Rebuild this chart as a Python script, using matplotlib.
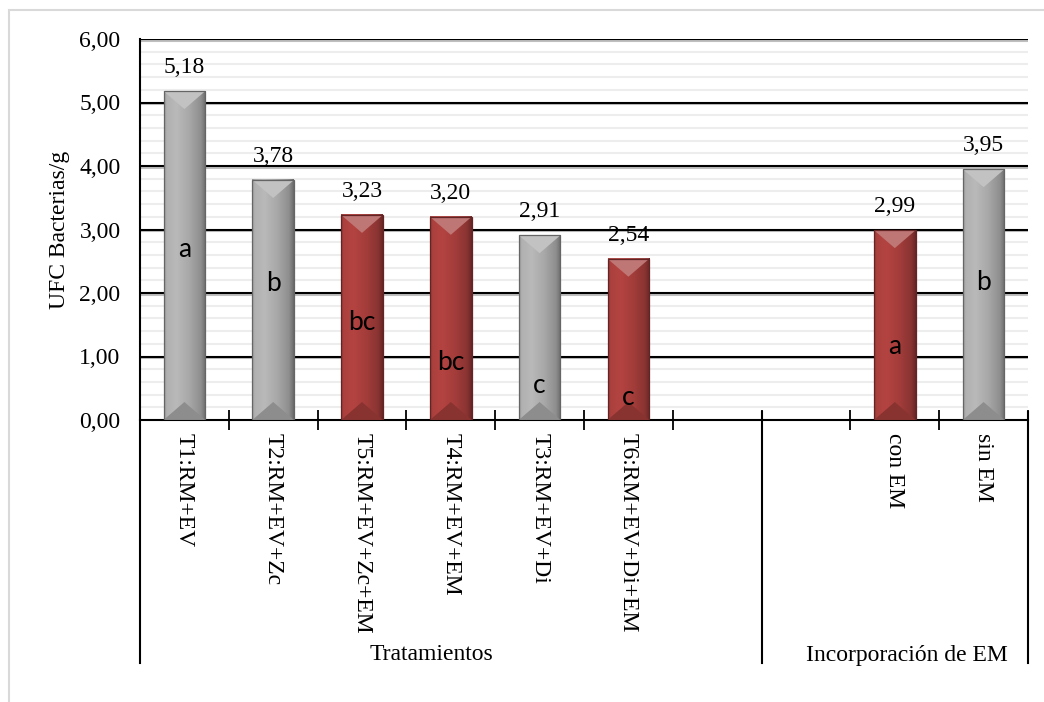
import numpy as np
import matplotlib
matplotlib.use("Agg")
import matplotlib.pyplot as plt
import matplotlib.patheffects as pe
import matplotlib.transforms as mtransforms
from matplotlib.patches import Polygon, Rectangle
from matplotlib.ticker import FuncFormatter, MultipleLocator

# bacterial counts per treatment, then by EM incorporation (empty slots pad the groups)
categories = ["T1:RM+EV", "T2:RM+EV+Zc", "T5:RM+EV+Zc+EM", "T4:RM+EV+EM",
              "T3:RM+EV+Di", "T6:RM+EV+Di+EM", "", "", "con EM", "sin EM"]
values = [5.18, 3.78, 3.23, 3.20, 2.91, 2.54, np.nan, np.nan, 2.99, 3.95]
letters = ["a", "b", "bc", "bc", "c", "c", "", "", "a", "b"]
letter_y = [2.69, 2.15, 1.54, 0.91, 0.55, 0.35, 0, 0, 1.15, 2.17]
with_em = [False, False, True, True, False, True, False, False, True, False]
groups = ["Tratamientos", "Incorporación de EM"]
group_x = [2.78, 8.14]
group_edges = [-0.5, 6.5, 9.5]

plt.rcParams["font.family"] = ["Liberation Serif", "DejaVu Serif"]

W, H = 1044, 702
fig = plt.figure(figsize=(W / 100, H / 100), dpi=100)
left, right, top, bottom = 140, 1028, 39, 420
ax = fig.add_axes([left / W, 1 - bottom / H, (right - left) / W, (bottom - top) / H])

n = len(categories)
x = np.arange(n)
ymax = 6
px_y = (bottom - top) / ymax
FS = 17

# light frame around the whole chart
fig.patches.append(Rectangle((9 / W, -0.1), 1.2, (H - 10) / H + 0.1, transform=fig.transFigure,
                             fill=False, edgecolor="#D9D9D9", lw=1.5, zorder=0))

GRAY = np.array([0.66, 0.66, 0.66])
RED = np.array([0.64, 0.24, 0.23])
bar_w = 0.47
bevel = 18 / px_y

prof = np.interp(np.linspace(0, 1, 80),
                 [0, 0.06, 0.3, 0.6, 0.88, 0.96, 1],
                 [0.9, 1.05, 1.1, 1.0, 0.85, 0.72, 0.62])

for xi, v, em in zip(x, values, with_em):
    if np.isnan(v):
        continue
    base = RED if em else GRAY
    x0, x1 = xi - bar_w / 2, xi + bar_w / 2
    img = np.clip(base[None, None, :] * prof[None, :, None], 0, 1)
    ax.imshow(img, extent=(x0, x1, 0, v), aspect="auto", interpolation="bilinear", zorder=3)
    # bevelled top and bottom faces
    light = np.clip(base + (1 - base) * 0.3, 0, 1)
    dark = base * 0.84
    ax.add_patch(Polygon([(x0, v), (x1, v), (xi, v - bevel)], closed=True,
                         facecolor=light, edgecolor="none", zorder=4))
    ax.add_patch(Polygon([(x0, 0), (x1, 0), (xi, bevel)], closed=True,
                         facecolor=dark, edgecolor="none", zorder=4))
    ax.add_patch(Rectangle((x0, 0), bar_w, v, fill=False, edgecolor=base * 0.6, lw=0.9, zorder=5))
    ax.annotate(f"{v:.2f}".replace(".", ","), (xi, v), xytext=(0, 17), textcoords="offset points",
                ha="center", va="center", fontsize=FS, color="black", zorder=6)

for xi, lab, ly in zip(x, letters, letter_y):
    if lab:
        ax.text(xi, ly, lab, ha="center", va="center", fontsize=19, family=["Lato", "DejaVu Sans"],
                color="black", zorder=6)

ax.set_xlim(-0.5, n - 0.5)
ax.set_ylim(0, ymax)

# gridlines: black majors with a soft shadow, pale minors every 0.2
for yv in range(1, ymax + 1):
    ax.axhline(yv, color="black", lw=1.5, zorder=1,
               path_effects=[pe.SimpleLineShadow(offset=(0, -1.2), shadow_color="gray", alpha=0.5),
                             pe.Normal()])
ax.yaxis.set_major_locator(MultipleLocator(1))
ax.yaxis.set_minor_locator(MultipleLocator(0.2))
ax.grid(which="minor", axis="y", color="#EDEDED", lw=1.5, zorder=0)
ax.set_axisbelow(True)
ax.yaxis.set_major_formatter(FuncFormatter(lambda v, p: f"{v:.2f}".replace(".", ",")))
ax.tick_params(axis="y", which="both", length=0, pad=14, labelsize=FS)

for s in ["top", "right", "left"]:
    ax.spines[s].set_visible(False)
ax.spines["bottom"].set_linewidth(1.5)

ax.set_xticks(np.arange(n + 1) - 0.5)
ax.set_xticklabels([])
ax.tick_params(axis="x", direction="inout", length=14, width=1.3)

trans = mtransforms.blended_transform_factory(ax.transData, ax.transAxes)
ax_h = bottom - top
low = -(663 - bottom) / ax_h
ax.plot([-0.5, -0.5], [low, 1], transform=trans, color="black", lw=1.5, clip_on=False, zorder=7)
for ex in group_edges[1:]:
    ax.plot([ex, ex], [low, 0.02], transform=trans, color="black", lw=1.5, clip_on=False, zorder=7)

for xi, lab in zip(x, categories):
    if lab:
        ax.text(xi, -(433 - bottom) / ax_h, lab, transform=trans, rotation=270,
                ha="center", va="top", fontsize=FS)
for gx, g in zip(group_x, groups):
    ax.text(gx, -(655 - bottom) / ax_h, g, transform=trans, ha="center", va="center", fontsize=FS)

fig.text(60 / W, 1 - 230 / H, "UFC Bacterias/g", rotation=90, ha="center", va="center", fontsize=FS)

fig.savefig("out.png", dpi=100)
